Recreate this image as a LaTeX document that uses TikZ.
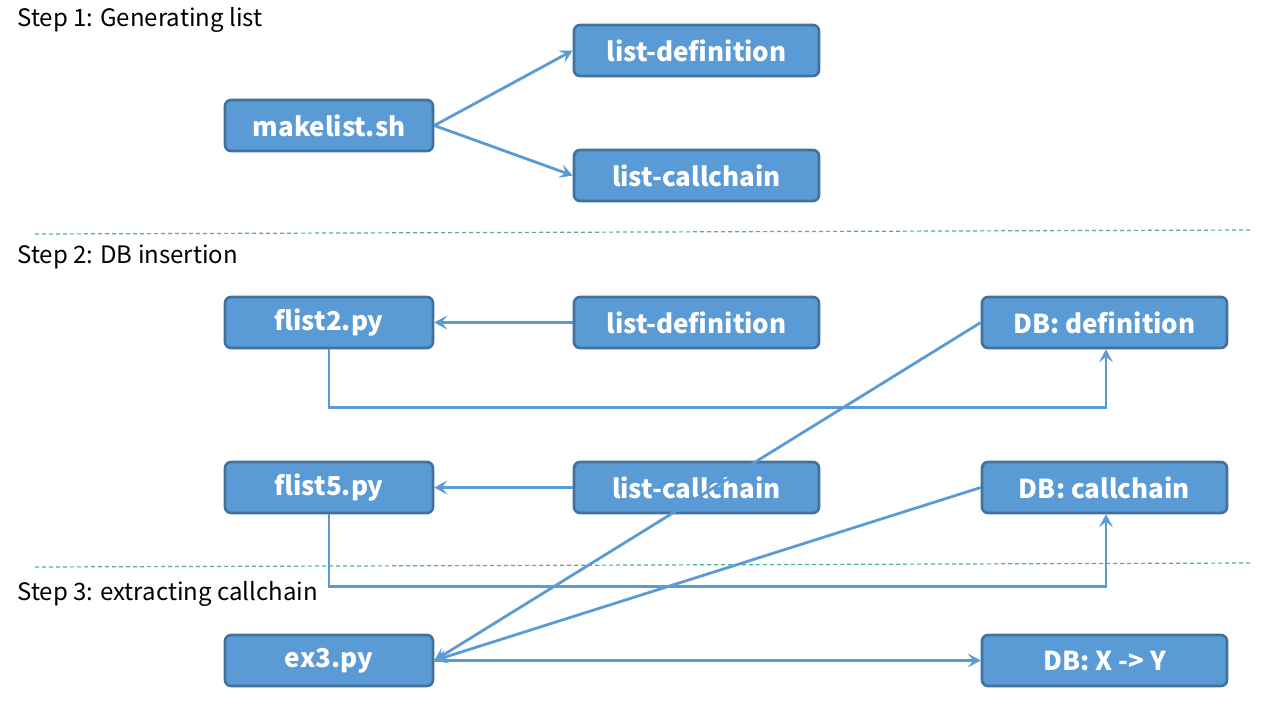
\documentclass[tikz,border=0pt]{standalone}
\usepackage{fontspec}
\newfontfamily\jpfont{Noto Sans CJK JP}
\usepackage{tikz}
\usetikzlibrary{arrows.meta,positioning,calc}

\definecolor{boxfill}{HTML}{5B9BD5}
\definecolor{boxline}{HTML}{41719C}
\definecolor{sepline}{HTML}{4DB38A}

\begin{document}
\begin{tikzpicture}[
  x=0.5pt, y=-0.5pt,
  font=\jpfont,
  >={Stealth[length=6.5pt,width=7pt,inset=2.8pt]},
  box/.style={draw=boxline, line width=1.3pt, rounded corners=3pt, fill=boxfill,
    text=white, font=\jpfont\bfseries\fontsize{13}{15}\selectfont,
    minimum width=104pt, minimum height=25.5pt, inner sep=0pt},
  wide/.style={box, minimum width=122.5pt},
  steplabel/.style={anchor=west, inner sep=0pt, font=\jpfont\fontsize{12}{14}\selectfont},
  arr/.style={->, draw=boxfill, line width=1.4pt},
  sep/.style={draw=sepline, dashed, dash pattern=on 2pt off 1.5pt, line width=0.6pt}
]
  \useasboundingbox (0,0) rectangle (1280,720);

  % Step 1
  \node[steplabel] (s1) at (17,20) {Step 1: Generating list};
  \node[box] (mk) at (329,125.5) {makelist.sh};
  \node[wide] (ldefa) at (696.5,50.5) {list-definition};
  \node[wide] (lcca) at (696.5,175.5) {list-callchain};
  \draw[arr] (mk.east) -- (ldefa.west);
  \draw[arr] (mk.east) -- (lcca.west);

  \coordinate (sepa1) at (35,234);
  \coordinate (sepa2) at (1250,230);
  \draw[sep] (sepa1) -- (sepa2);

  % Step 2
  \node[steplabel] (s2) at (17,257) {Step 2: DB insertion};
  \node[box] (fl2) at (329,322.5) {flist2.py};
  \node[wide] (ldefb) at (696.5,322.5) {list-definition};
  \node[wide] (dbdef) at (1104.5,322.5) {DB: definition};
  \node[box] (fl5) at (329,487.5) {flist5.py};
  \node[wide] (lccb) at (696.5,487.5) {list-callchain};
  \node[wide] (dbcc) at (1104.5,487.5) {DB: callchain};
  \draw[arr] (ldefb.west) -- (fl2.east);
  \draw[arr] (lccb.west) -- (fl5.east);
  \draw[arr] (fl2.south) -- ++(0,58) -| ($(dbdef.south)+(1.5,0)$);
  \draw[arr] (fl5.south) -- ++(0,72) -| ($(dbcc.south)+(1.5,0)$);

  \coordinate (sepb1) at (35,567);
  \coordinate (sepb2) at (1250,563);
  \draw[sep] (sepb1) -- (sepb2);

  % Step 3
  \node[steplabel] (s3) at (17,594) {Step 3: extracting callchain};
  \node[box] (ex3) at (329,660.5) {ex3.py};
  \node[wide] (dbxy) at (1104.5,660.5) {DB: X -> Y};
  \draw[arr] (dbdef.west) -- (ex3.east);
  \draw[arr] (dbcc.west) -- (ex3.east);
  \draw[arr] (ex3.east) -- (dbxy.west);
\end{tikzpicture}
\end{document}
